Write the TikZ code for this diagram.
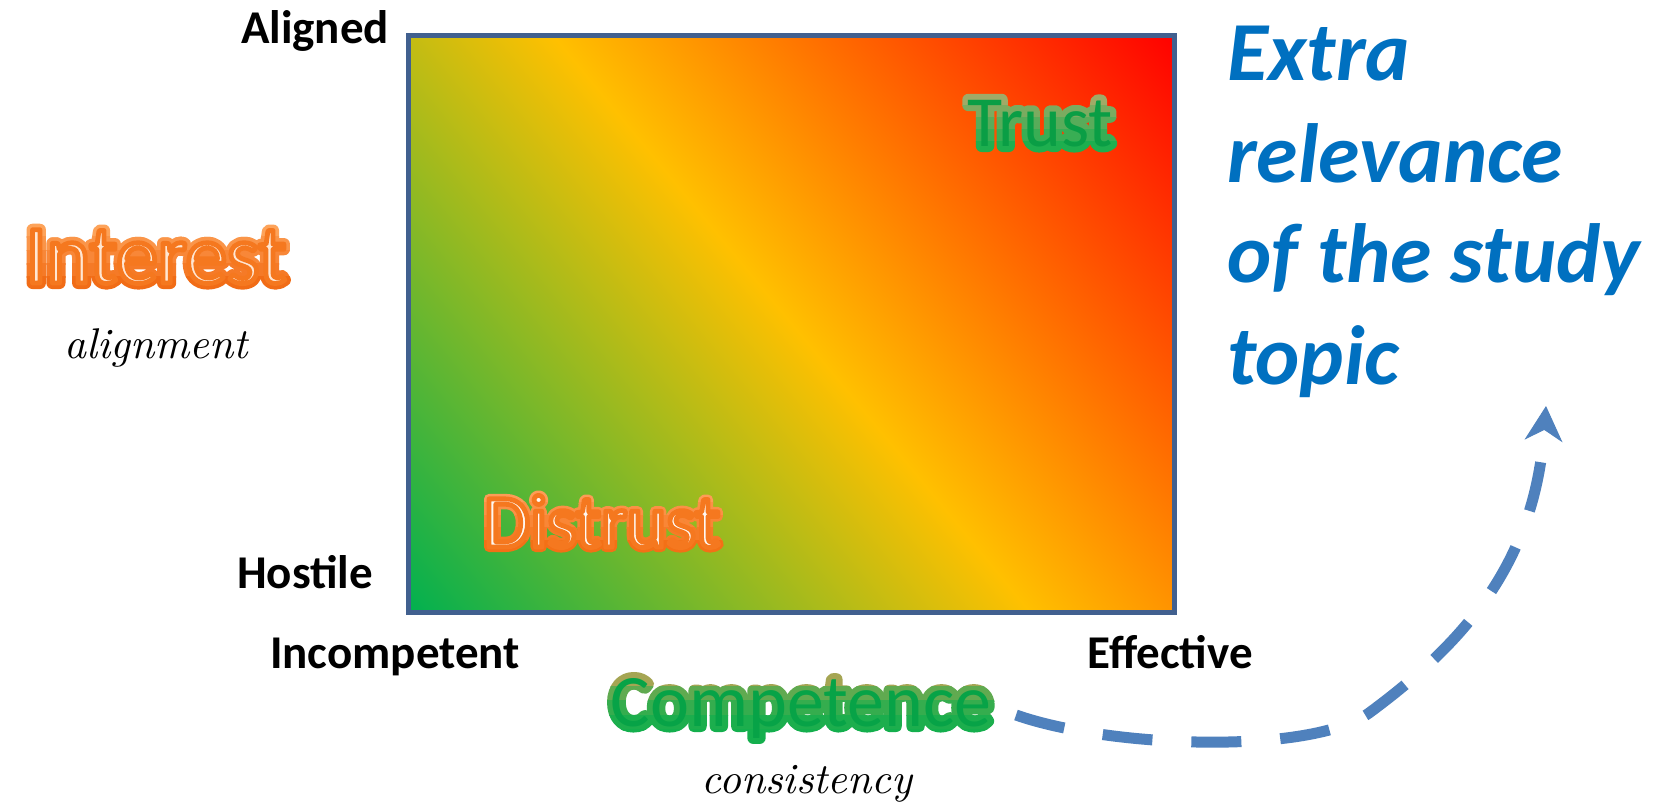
\documentclass[tikz,border=0pt]{standalone}
\usepackage{fontspec}
\usetikzlibrary{calc,arrows.meta}
\newfontfamily\calib{Carlito}
\newfontfamily\lmit{lmroman10-italic.otf}

\definecolor{fgreen}{HTML}{00B050}
\definecolor{fyellow}{HTML}{FFC000}
\definecolor{fred}{HTML}{FF0000}
\definecolor{frameblue}{HTML}{41608F}
\definecolor{linkblue}{HTML}{4F81BD}
\definecolor{topicblue}{HTML}{0070C0}
% word colours
\definecolor{intTop}{HTML}{FFAA62}
\definecolor{intBot}{HTML}{F0650E}
\definecolor{intIn}{HTML}{FFE6D2}
\definecolor{compTop}{HTML}{D3A255}
\definecolor{compBot}{HTML}{14AF4D}
\definecolor{compIn}{HTML}{07A347}
\definecolor{trTop}{HTML}{B3A96A}
\definecolor{trBot}{HTML}{14AF4D}
\definecolor{trIn}{HTML}{0A9E45}
\definecolor{disTop}{HTML}{FFA25E}
\definecolor{disBot}{HTML}{F26A0E}
\definecolor{disIn}{HTML}{FFF8F2}

% diagonal field: green -> yellow -> red
\pgfdeclarehorizontalshading{trustfield}{100bp}{color(0bp)=(fgreen); color(25bp)=(fgreen); color(50bp)=(fyellow); color(75bp)=(fred); color(100bp)=(fred)}

% glyph outlines stroked with round joins (PDF text render mode 1)
\newcommand\ringstroke[1]{\special{pdf:literal 1 j 1 Tr #1 w}}
\newcommand\ringstop{\special{pdf:literal 0 Tr}}
% optional thin orange edge on the light inner glyph (fill + stroke)
\newcommand\orangeedge{\special{pdf:literal 1 j 2 Tr 2.4 w 0.96 0.47 0.12 RG}}
\newcommand\glowinner{}

% outlined word: a thick stroked outline, coloured in horizontal bands
% from top to bottom, under the word itself
% #1 name, #2 position (baseline centre), #3 font, #4 text,
% #5 ring top colour, #6 ring bottom colour, #7 inner colour, #8 ring radius in pt
\newcommand\glowpow{1}
\newcommand\glowword[8]{%
  \path (#2) node[anchor=base, inner sep=0pt, font=#3] (#1) {\phantom{#4}};
  \coordinate (#1TL) at ($(#1.north west)+(-14pt,#8pt)$);
  \coordinate (#1BR) at ($(#1.south east)+(14pt,-#8pt)$);
  \pgfmathsetmacro\glowwidth{2*#8}%
  \foreach \k in {0,...,4}{%
    \pgfmathsetmacro\glowlo{\k==0 ? -1 : \k/5}%
    \pgfmathsetmacro\glowhi{\k==4 ? 2 : (\k+1)/5+0.01}%
    \pgfmathtruncatemacro\glowpc{100*(1-(\k+0.5)/5)^\glowpow}%
    \colorlet{glowc}{#5!\glowpc!#6}%
    \begin{scope}
      \clip ($(#1TL)!\glowlo!(#1TL|-#1BR)$) rectangle ($(#1BR|-#1TL)!\glowhi!(#1BR)$);
      \path (#1.base) node[anchor=base, inner sep=0pt, font=#3, text=glowc] (#1ring) {\ringstroke{\glowwidth}#4\ringstop};
    \end{scope}
  }
  \path (#1.base) node[anchor=base, inner sep=0pt, font=#3, text=#7] (#1word) {\glowinner#4\ringstop};
}

\tikzset{
  axislabel/.style={anchor=base, inner sep=0pt, font=\calib\bfseries\fontsize{23.5}{28}\selectfont, text=black},
  subtitle/.style={anchor=base, inner sep=0pt, font=\lmit\fontsize{21.5}{26}\selectfont, text=black},
  topicline/.style={anchor=base west, inner sep=0pt, font=\calib\bfseries\itshape\fontsize{42}{50}\selectfont, text=topicblue},
}

\begin{document}
\begin{tikzpicture}[x=0.5pt, y=-0.5pt]
  \useasboundingbox (0,0) rectangle (1659,805);
  \fill[white] (0,0) rectangle (1659,805);

  % the field
  \begin{scope}
    \clip (408.5,35.5) rectangle (1174.5,612.5);
    \begin{scope}[transform canvas={rotate around={39.6:(791.5,324)}}]
      \shade[shading=trustfield] (311.5,-156) rectangle (1271.5,804);
    \end{scope}
  \end{scope}
  \draw[frameblue, line width=2.5pt] (408.5,35.5) rectangle (1174.5,612.5);

  % axis ends
  \node[axislabel] (aligned) at (315,43) {Aligned};
  \node[axislabel] (hostile) at (305,588) {Hostile};
  \node[axislabel] (incompetent) at (395,668) {Incompetent};
  \node[axislabel] (effective) at (1170,668) {Effective};

  % axis titles
  \renewcommand\glowpow{1}
  \renewcommand\glowinner{\orangeedge}
  \glowword{interest}{156,283}{\calib\fontsize{41.5}{41.5}\selectfont}{Interest}{intTop}{intBot}{intIn}{3}
  \node[subtitle] (alignment) at (156,358) {alignment};

  \renewcommand\glowpow{2.5}
  \renewcommand\glowinner{}
  \glowword{competence}{801,726}{\calib\fontsize{37}{37}\selectfont}{Competence}{compTop}{compBot}{compIn}{3}
  \node[subtitle] (consistency) at (807,793) {consistency};

  % quadrant words
  \renewcommand\glowpow{1.2}
  \glowword{trust}{1040,146}{\calib\fontsize{36}{36}\selectfont}{Trust}{trTop}{trBot}{trIn}{3}
  \renewcommand\glowpow{1}
  \renewcommand\glowinner{\orangeedge}
  \glowword{distrust}{602,547}{\calib\fontsize{37.5}{37.5}\selectfont}{Distrust}{disTop}{disBot}{disIn}{2.5}

  % note on the right
  \node[topicline] (topic1) at (1227,80) {Extra};
  \node[topicline] (topic2) at (1227,182) {relevance};
  \node[topicline] (topic3) at (1227,282) {of the study};
  \node[topicline] (topic4) at (1227,384) {topic};

  % dashed link from competence to the note
  \coordinate (linkstart) at (1016,715);
  \coordinate (linkbend) at (1369,713);
  \coordinate (linktip) at (1546,406);
  \draw[linkblue, line width=5.5pt, dash pattern=on 25pt off 19.5pt,
        -{Stealth[length=17.5pt, width=19pt, inset=5.5pt, line width=0.5pt]}]
    (linkstart) .. controls (1110,748) and (1310,755) .. (linkbend)
                .. controls (1468,640) and (1535,560) .. (linktip);
\end{tikzpicture}
\end{document}
